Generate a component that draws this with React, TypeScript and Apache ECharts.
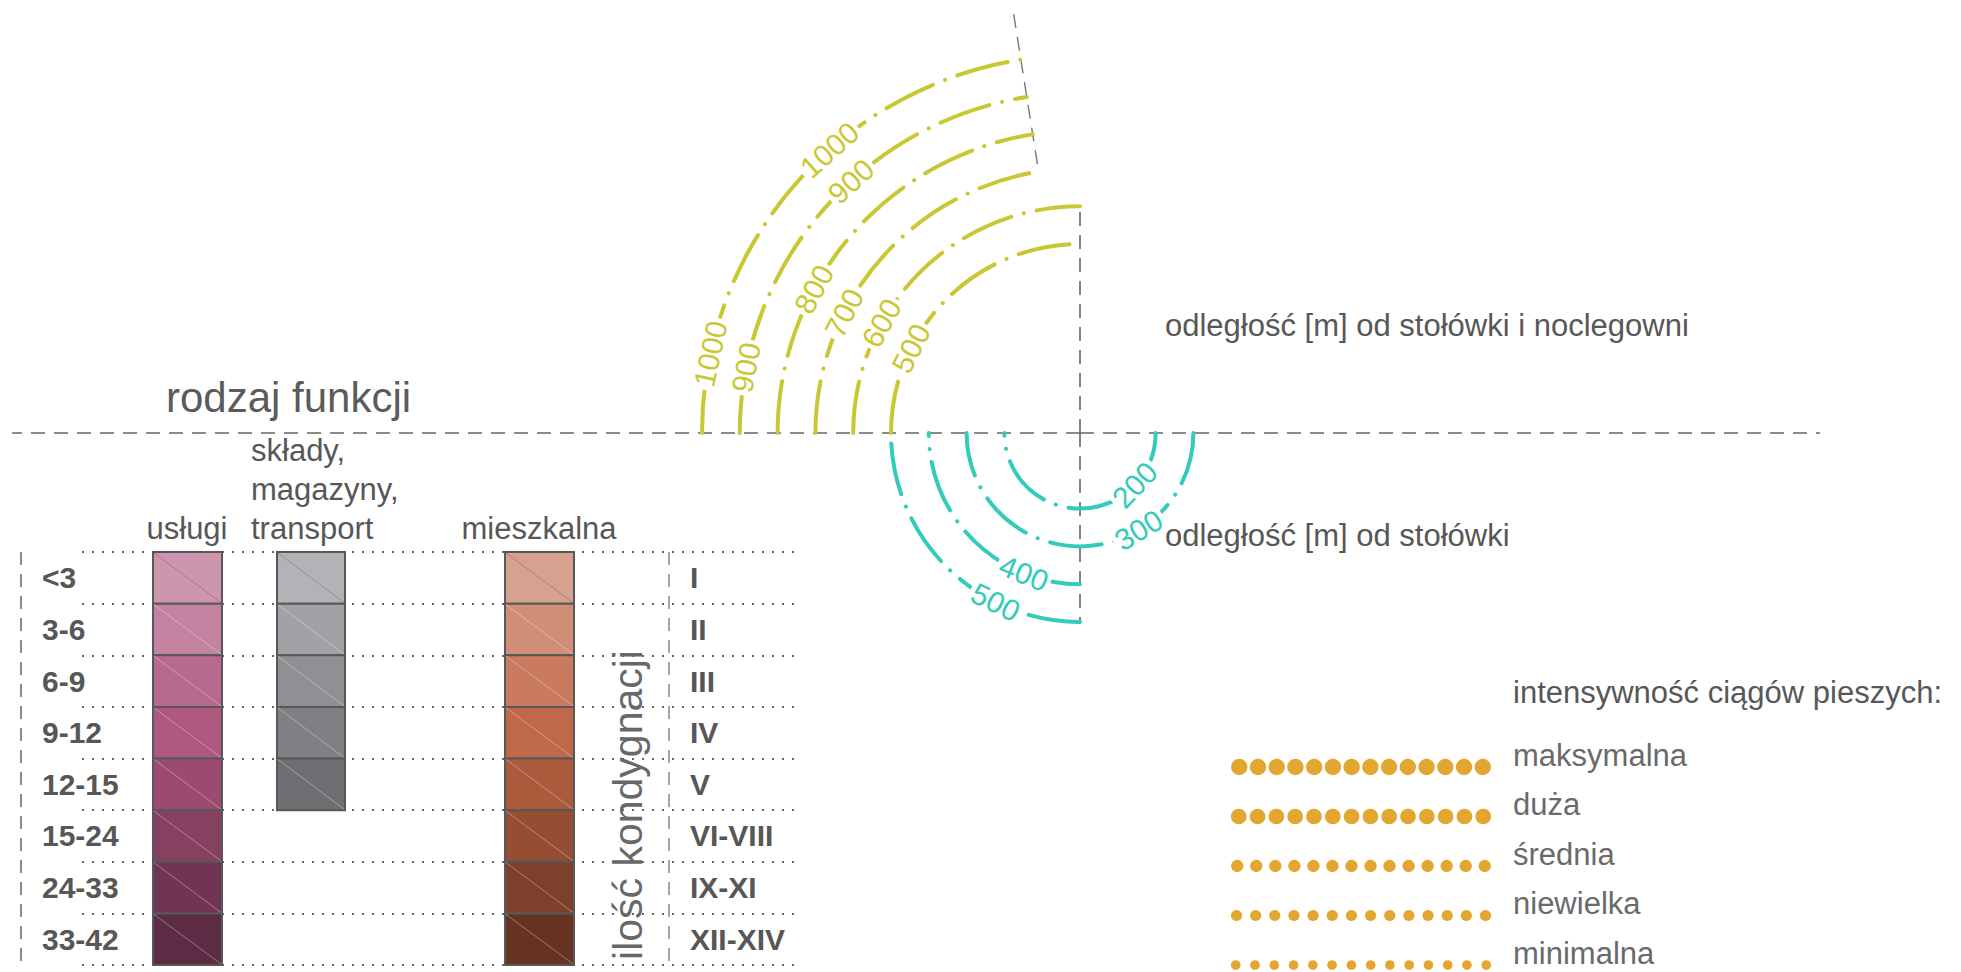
import React, { useEffect, useRef } from 'react';
import * as echarts from 'echarts';

// ---------------- data ----------------
const floorRanges = ['<3', '3-6', '6-9', '9-12', '12-15', '15-24', '24-33', '33-42'];
const floorNumerals = ['I', 'II', 'III', 'IV', 'V', 'VI-VIII', 'IX-XI', 'XII-XIV'];
const functionNames = ['usługi', 'składy,\nmagazyny,\ntransport', 'mieszkalna'];
const functionFloorClasses = [8, 5, 8];
const canteenDistances = [200, 300, 400, 500];
const canteenHostelDistances = [500, 600, 700, 800, 900, 1000];
const walkIntensities = ['maksymalna', 'duża', 'średnia', 'niewielka', 'minimalna'];
const dotsPerIntensity = [14, 14, 14, 14, 14];

// ---------------- styles / layout ----------------
const FONT = '"Liberation Sans", Arial, Helvetica, sans-serif';
const DEG = Math.PI / 180;
const YELLOW = '#c9c834';
const TEAL = '#33cbb9';
const DOT = '#e3a630';
const TXT = '#575757';

const functionColors = [
  ['#cd95ae', '#c3829f', '#b86a8e', '#ae5880', '#9d4a72', '#864060', '#6f3552', '#5c2c45'],
  ['#b2b3b7', '#a0a2a5', '#8f9093', '#7f8083', '#6d6f73'],
  ['#d6a18f', '#d08e77', '#c97a5f', '#c0694a', '#ab5a3b', '#954d34', '#7c402b', '#663322'],
];
const columnBoxes = [
  { left: 153, width: 69, headerX: 187 },
  { left: 277, width: 68, headerX: 251 },
  { left: 505, width: 69, headerX: 539 },
];
const TABLE_TOP = 552;
const TABLE_H = 413;

// arc spans in math degrees (counter-clockwise from east)
const canteenSpans = [[180, 360], [180, 360], [180, 270], [180, 270]];
const hostelSpans = [[90, 180], [90, 180], [99, 180], [99, 180], [99, 180], [99, 180]];
const canteenLabelAngles = [[316.6], [301.2], [248.2], [243.5]];
const hostelLabelAngles = [[153.4], [151], [153], [151.6], [132.3, 168.9], [131.5, 167.9]];
// guide rays: [fromDistance, angle, toDistance]
const guideRays = [
  [0, 180, 2825],
  [0, 0, 1958],
  [0, 90, 600],
  [0, 270, 500],
  [720, 99, 1122],
];
const dotSizes = [16.5, 15.5, 12.5, 11, 9.5];

const makeArcRenderer = (color: string, labelAngles: number[][], topOutward: boolean) =>
  (params: any, api: any) => {
    const i = params.dataIndex;
    const d = api.value(0);
    const a0 = api.value(1);
    const a1 = api.value(2);
    const c = api.coord([0, 0]);
    const p = api.coord([d, 0]);
    const r = Math.hypot(p[0] - c[0], p[1] - c[1]);
    const children: any[] = [
      {
        type: 'arc',
        shape: { cx: c[0], cy: c[1], r, startAngle: -a1 * DEG, endAngle: -a0 * DEG, clockwise: true },
        style: { stroke: color, fill: 'none', lineWidth: 4, lineDash: [52, 13, 0.1, 13], lineCap: 'round' },
      },
    ];
    (labelAngles[i] || []).forEach((t) => {
      const pt = api.coord([d, t]);
      children.push({
        type: 'text',
        x: pt[0],
        y: pt[1],
        rotation: (topOutward ? t - 90 : t + 90) * DEG,
        style: {
          text: String(d),
          fill: color,
          fontSize: 30,
          fontFamily: FONT,
          align: 'center',
          verticalAlign: 'middle',
          backgroundColor: '#ffffff',
          padding: [0, 3],
        },
      });
    });
    return { type: 'group', children };
  };

const renderGuide = (params: any, api: any) => {
  const rFrom = api.value(0);
  const ang = api.value(1);
  const rTo = api.value(2);
  const a = api.coord([rFrom, ang]);
  const b = api.coord([rTo, ang]);
  const tilted = ang % 90 !== 0;
  return {
    type: 'line',
    shape: { x1: a[0], y1: a[1], x2: b[0], y2: b[1] },
    style: { stroke: tilted ? '#777' : '#666', lineWidth: tilted ? 1.4 : 1.6, lineDash: [14, 9] },
  };
};

const renderCells = (params: any, api: any) => {
  const cat = api.value(1);
  const left = api.coord([0, cat]);
  const right = api.coord([api.value(0), cat]);
  const h = api.size([0, 1])[1];
  const x0 = left[0];
  const x1 = right[0];
  const y0 = left[1] - h / 2;
  const first = params.dataIndex === 0;
  return {
    type: 'group',
    children: [
      {
        type: 'rect',
        shape: { x: x0, y: y0, width: x1 - x0, height: h },
        style: { fill: api.visual('color'), stroke: '#585858', lineWidth: 2 },
      },
      {
        type: 'line',
        shape: { x1: x0 + 1, y1: y0 + 1, x2: x1 - 1, y2: y0 + h - 1 },
        style: { stroke: first ? 'rgba(110,60,90,0.35)' : 'rgba(255,255,255,0.35)', lineWidth: 1 },
      },
    ],
  };
};

const hiddenValueX = (gridIndex: number, max: number) => ({
  type: 'value', gridIndex, min: 0, max, show: false,
});

function buildOption() {
  const g = (left: number, top: number, width: number, height: number) => ({
    left, top, width, height, containLabel: false, outerBoundsMode: 'none',
  });
  const grids: any[] = [
    g(82, TABLE_TOP, 715, TABLE_H),
    g(42, TABLE_TOP, 1, TABLE_H),
    g(689, TABLE_TOP, 1, TABLE_H),
    ...columnBoxes.map((b) => g(b.left, TABLE_TOP, b.width, TABLE_H)),
    g(1231, 742.25, 260, 247.5),
  ];
  const xAxes: any[] = [
    hiddenValueX(0, 1), hiddenValueX(1, 1), hiddenValueX(2, 1),
    hiddenValueX(3, 1), hiddenValueX(4, 1), hiddenValueX(5, 1),
    hiddenValueX(6, Math.max(...dotsPerIntensity)),
  ];
  const noLine = { axisLine: { show: false }, axisTick: { show: false } };
  const yAxes: any[] = [
    {
      type: 'category', gridIndex: 0, data: floorRanges, inverse: true, ...noLine,
      axisLabel: { show: false },
      splitLine: { show: true, interval: 0, lineStyle: { color: '#666', width: 2, type: [2, 8] } },
    },
    {
      type: 'category', gridIndex: 1, data: floorRanges, inverse: true, position: 'left', ...noLine,
      splitLine: { show: false },
      axisLabel: { interval: 0, align: 'left', margin: 0, fontFamily: FONT, fontSize: 30, fontWeight: 'bold', color: TXT },
    },
    {
      type: 'category', gridIndex: 2, data: floorNumerals, inverse: true, position: 'right', ...noLine,
      splitLine: { show: false },
      axisLabel: { interval: 0, align: 'left', margin: 0, fontFamily: FONT, fontSize: 30, fontWeight: 'bold', color: TXT },
    },
    ...columnBoxes.map((_, i) => ({
      type: 'category', gridIndex: 3 + i, data: floorRanges, inverse: true, show: false,
    })),
    {
      type: 'category', gridIndex: 6, data: walkIntensities, inverse: true, position: 'right', ...noLine,
      splitLine: { show: false },
      axisLabel: {
        interval: 0, align: 'left', margin: 22, verticalAlign: 'bottom', lineHeight: 24,
        fontFamily: FONT, fontSize: 31, color: '#6a6a6a',
      },
    },
  ];

  const series: any[] = [
    {
      type: 'custom', coordinateSystem: 'polar', polarIndex: 0, silent: true,
      data: guideRays,
      renderItem: renderGuide,
    },
    {
      type: 'custom', coordinateSystem: 'polar', polarIndex: 0, silent: true,
      name: 'odległość od stołówki',
      data: canteenDistances.map((d, i) => [d, canteenSpans[i][0], canteenSpans[i][1]]),
      renderItem: makeArcRenderer(TEAL, canteenLabelAngles, false),
    },
    {
      type: 'custom', coordinateSystem: 'polar', polarIndex: 0, silent: true,
      name: 'odległość od stołówki i noclegowni',
      data: canteenHostelDistances.map((d, i) => [d, hostelSpans[i][0], hostelSpans[i][1]]),
      renderItem: makeArcRenderer(YELLOW, hostelLabelAngles, true),
    },
    ...functionNames.map((name, c) => ({
      type: 'custom', name, xAxisIndex: 3 + c, yAxisIndex: 3 + c, silent: true,
      data: floorRanges.slice(0, functionFloorClasses[c]).map((f, i) => ({
        value: [1, f],
        itemStyle: { color: functionColors[c][i] },
      })),
      renderItem: renderCells,
    })),
    {
      type: 'pictorialBar', xAxisIndex: 6, yAxisIndex: 6, silent: true,
      symbol: 'circle',
      itemStyle: { color: DOT },
      data: walkIntensities.map((_, i) => ({
        value: dotsPerIntensity[i],
        symbolRepeat: dotsPerIntensity[i],
        symbolSize: [dotSizes[i], dotSizes[i]],
      })),
    },
  ];

  const txt = (text: string, x: number, y: number, opts: any = {}) => ({
    type: 'text', x, y, rotation: opts.rotation || 0,
    style: {
      text, fill: opts.color || TXT, fontSize: opts.size || 31, fontFamily: FONT,
      align: opts.align || 'left', verticalAlign: 'middle',
    },
  });

  const headerLines = functionNames[1].split('\n');
  const graphic = [
    txt('rodzaj funkcji', 166, 397, { size: 42, color: '#5b5b5b' }),
    txt(functionNames[0], columnBoxes[0].headerX, 528, { align: 'center' }),
    ...headerLines.map((l, k) => txt(l, columnBoxes[1].headerX, 528 - (headerLines.length - 1 - k) * 39)),
    txt(functionNames[2], columnBoxes[2].headerX, 528, { align: 'center' }),
    txt('ilość kondygnacji', 628, 805, { size: 41, color: '#686868', align: 'center', rotation: Math.PI / 2 }),
    txt('odległość [m] od stołówki i noclegowni', 1165, 325),
    txt('odległość [m] od stołówki', 1165, 535),
    txt('intensywność ciągów pieszych:', 1513, 692),
    // table frame dashed verticals
    { type: 'line', shape: { x1: 21, y1: TABLE_TOP, x2: 21, y2: TABLE_TOP + TABLE_H }, style: { stroke: '#666', lineWidth: 1.5, lineDash: [13, 9] } },
    { type: 'line', shape: { x1: 669, y1: TABLE_TOP, x2: 669, y2: TABLE_TOP + TABLE_H }, style: { stroke: '#888', lineWidth: 1.5, lineDash: [13, 9] } },
  ];

  return {
    animation: false,
    backgroundColor: '#ffffff',
    textStyle: { fontFamily: FONT },
    polar: { center: [1080, 433], radius: 1134 },
    radiusAxis: {
      type: 'value', min: 0, max: 3000,
      axisLine: { show: false }, axisTick: { show: false }, axisLabel: { show: false }, splitLine: { show: false },
    },
    angleAxis: {
      type: 'value', min: 0, max: 360, startAngle: 0, clockwise: false,
      axisLine: { show: false }, axisTick: { show: false }, axisLabel: { show: false }, splitLine: { show: false },
    },
    grid: grids,
    xAxis: xAxes,
    yAxis: yAxes,
    series,
    graphic: { elements: graphic },
  };
}

export default function App() {
  const ref = useRef<HTMLDivElement>(null);
  useEffect(() => {
    if (!ref.current) return;
    const chart = echarts.init(ref.current, null, { renderer: 'svg' });
    chart.setOption(buildOption() as any);
    return () => chart.dispose();
  }, []);
  return (
    <div
      ref={ref}
      style={{ position: 'fixed', left: 0, top: 0, width: 1961, height: 972, background: '#ffffff' }}
    />
  );
}
